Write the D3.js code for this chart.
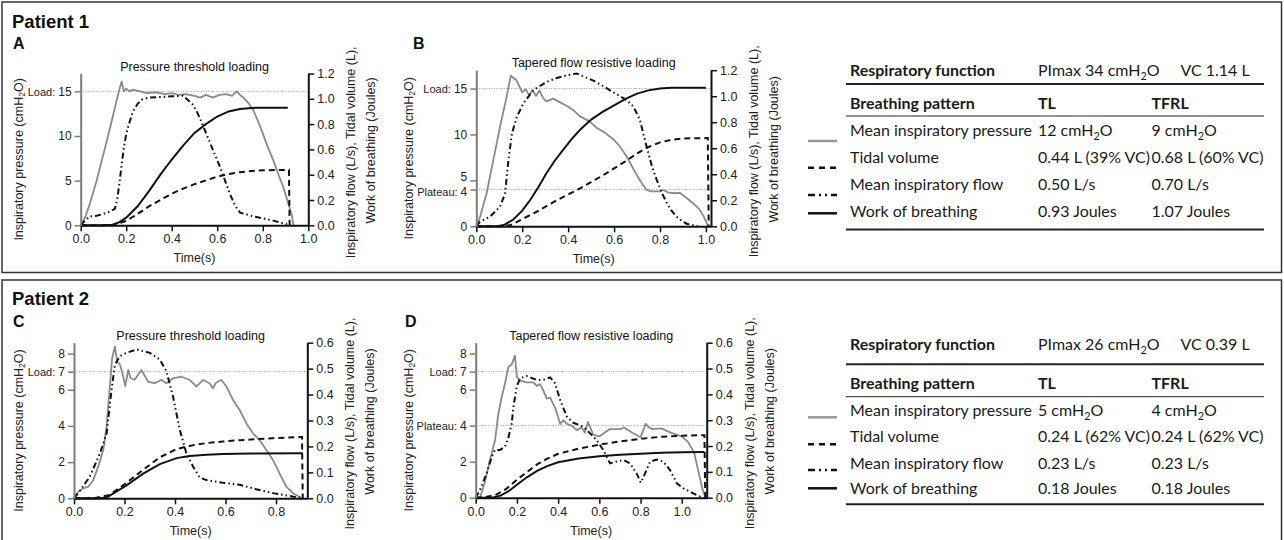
<!DOCTYPE html>
<html><head><meta charset="utf-8">
<script src="https://cdn.jsdelivr.net/npm/d3@7"></script>
<style>
body{margin:0;background:#fff;}
svg{display:block;}
</style></head><body>
<svg id="chart" width="1284" height="540"></svg>
<script>
// ---------------- DATA ----------------
// Panel A – Patient 1, pressure threshold loading  ([time s, value])
const pressureA = [[0,0],[0.02,0.9],[0.04,2.4],[0.07,5.0],[0.1,8.0],[0.13,11.0],[0.158,14.0],[0.172,15.4],[0.18,16.1],[0.19,15.0],[0.2,15.3],[0.215,15.0],[0.23,15.2],[0.26,15.0],[0.29,14.8],[0.33,14.9],[0.37,14.7],[0.4,14.8],[0.43,14.6],[0.46,14.7],[0.5,14.5],[0.525,14.3],[0.55,14.6],[0.58,14.3],[0.61,14.6],[0.64,14.7],[0.665,14.5],[0.685,15.0],[0.7,14.6],[0.715,14.3],[0.74,13.6],[0.76,12.8],[0.78,11.6],[0.8,10.3],[0.82,8.9],[0.846,7.3],[0.87,5.6],[0.89,4.3],[0.91,2.6],[0.927,1.2],[0.935,0]];
const flowA = [[0,0],[0.02,0.04],[0.04,0.07],[0.07,0.075],[0.1,0.09],[0.13,0.11],[0.15,0.13],[0.16,0.2],[0.17,0.33],[0.18,0.48],[0.19,0.62],[0.2,0.72],[0.21,0.79],[0.23,0.9],[0.25,0.96],[0.27,0.995],[0.3,1.01],[0.35,1.015],[0.4,1.02],[0.45,1.025],[0.465,1.0],[0.49,0.96],[0.51,0.9],[0.53,0.82],[0.555,0.71],[0.58,0.6],[0.61,0.47],[0.635,0.35],[0.655,0.25],[0.68,0.15],[0.7,0.1],[0.73,0.085],[0.76,0.07],[0.8,0.055],[0.85,0.035],[0.89,0.015],[0.92,0]];
const volumeA = [[0,0],[0.14,0],[0.2,0.035],[0.25,0.09],[0.3,0.15],[0.35,0.2],[0.4,0.25],[0.45,0.29],[0.5,0.325],[0.55,0.355],[0.6,0.385],[0.65,0.405],[0.7,0.42],[0.75,0.43],[0.8,0.435],[0.85,0.437],[0.915,0.437],[0.918,0]];
const workA = [[0,0],[0.1,0],[0.14,0.005],[0.17,0.025],[0.2,0.06],[0.25,0.15],[0.3,0.27],[0.35,0.4],[0.4,0.52],[0.45,0.63],[0.5,0.73],[0.55,0.8],[0.6,0.86],[0.65,0.9],[0.7,0.92],[0.75,0.928],[0.8,0.93],[0.91,0.93]];

// Panel B – Patient 1, tapered flow resistive loading
const pressureB = [[0,0],[0.016,1.0],[0.045,3.6],[0.074,7.2],[0.103,10.8],[0.132,14.1],[0.15,16.4],[0.175,15.9],[0.2,14.6],[0.215,14.9],[0.23,14.3],[0.245,14.8],[0.26,14.2],[0.275,14.8],[0.29,14.0],[0.305,13.6],[0.335,13.9],[0.365,13.5],[0.395,13.1],[0.425,12.6],[0.45,12.0],[0.495,11.4],[0.525,10.7],[0.56,10.2],[0.6,9.4],[0.625,8.7],[0.655,7.6],[0.685,6.2],[0.715,4.9],[0.74,4.0],[0.76,3.8],[0.8,3.8],[0.815,3.95],[0.835,3.7],[0.86,3.6],[0.885,3.65],[0.905,3.3],[0.94,2.6],[0.97,1.9],[0.99,1.1],[1.01,0]];
const flowB = [[0,0],[0.016,0.035],[0.06,0.075],[0.103,0.15],[0.125,0.25],[0.14,0.51],[0.155,0.71],[0.176,0.84],[0.205,0.945],[0.248,1.047],[0.306,1.11],[0.35,1.14],[0.393,1.16],[0.437,1.175],[0.47,1.15],[0.51,1.12],[0.55,1.08],[0.597,1.03],[0.655,0.97],[0.684,0.92],[0.712,0.82],[0.742,0.61],[0.765,0.46],[0.785,0.36],[0.81,0.25],[0.829,0.18],[0.85,0.12],[0.872,0.074],[0.9,0.035],[0.916,0.02],[0.95,0.005],[0.97,0]];
const volumeB = [[0,0],[0.12,0],[0.15,0.01],[0.2,0.055],[0.25,0.1],[0.3,0.15],[0.35,0.2],[0.4,0.245],[0.45,0.29],[0.5,0.34],[0.55,0.39],[0.6,0.445],[0.65,0.5],[0.7,0.56],[0.75,0.61],[0.8,0.645],[0.85,0.665],[0.9,0.675],[1.0,0.678],[1.008,0.678],[1.012,0]];
const workB = [[0,0],[0.09,0],[0.12,0.01],[0.16,0.05],[0.2,0.12],[0.234,0.2],[0.27,0.3],[0.306,0.41],[0.34,0.5],[0.379,0.59],[0.415,0.67],[0.451,0.74],[0.5,0.82],[0.55,0.88],[0.6,0.93],[0.65,0.98],[0.7,1.02],[0.75,1.045],[0.8,1.06],[0.85,1.065],[1.0,1.065]];

// Panel C – Patient 2, pressure threshold loading
const pressureC = [[0,0],[0.017,0.36],[0.037,0.55],[0.057,0.64],[0.076,1.0],[0.096,1.75],[0.116,2.67],[0.129,3.96],[0.142,6.17],[0.151,7.73],[0.162,8.38],[0.171,7.55],[0.182,7.4],[0.192,6.9],[0.203,6.2],[0.215,7.09],[0.224,6.65],[0.24,6.55],[0.267,7.09],[0.294,6.44],[0.32,6.36],[0.346,6.55],[0.366,6.36],[0.392,6.63],[0.426,6.72],[0.458,6.54],[0.485,6.17],[0.511,6.54],[0.537,6.36],[0.55,6.08],[0.563,6.4],[0.584,6.54],[0.604,6.17],[0.63,5.43],[0.656,4.88],[0.683,4.14],[0.709,3.59],[0.735,3.22],[0.762,2.67],[0.788,2.12],[0.814,1.38],[0.841,0.64],[0.867,0.28],[0.9,0.03]];
const flowC = [[0,0],[0.024,0.03],[0.063,0.084],[0.103,0.174],[0.129,0.25],[0.149,0.42],[0.162,0.516],[0.182,0.548],[0.208,0.561],[0.248,0.574],[0.3,0.561],[0.34,0.535],[0.366,0.49],[0.392,0.393],[0.419,0.264],[0.445,0.174],[0.472,0.122],[0.498,0.08],[0.525,0.07],[0.59,0.06],[0.656,0.052],[0.722,0.035],[0.788,0.02],[0.853,0.009],[0.9,0]];
const volumeC = [[0,0],[0.076,0],[0.142,0.013],[0.208,0.06],[0.274,0.11],[0.34,0.158],[0.406,0.19],[0.472,0.205],[0.525,0.213],[0.59,0.219],[0.656,0.224],[0.722,0.228],[0.788,0.232],[0.895,0.236],[0.903,0.236],[0.906,0]];
const workC = [[0,0],[0.1,0],[0.129,0.003],[0.208,0.05],[0.274,0.095],[0.34,0.132],[0.406,0.155],[0.458,0.163],[0.525,0.168],[0.59,0.171],[0.7,0.173],[0.907,0.174]];

// Panel D – Patient 2, tapered flow resistive loading
const pressureD = [[0,0],[0.021,0],[0.045,0.88],[0.069,2.08],[0.094,3.19],[0.11,4.66],[0.126,5.58],[0.142,6.32],[0.158,7.24],[0.175,7.4],[0.19,7.88],[0.2,6.7],[0.215,6.5],[0.247,6.4],[0.28,6.4],[0.296,6.2],[0.312,6.3],[0.328,5.95],[0.345,5.5],[0.361,5.55],[0.385,5.0],[0.41,4.1],[0.426,4.3],[0.442,4.1],[0.466,4.0],[0.49,3.75],[0.514,3.9],[0.53,3.6],[0.545,4.2],[0.57,3.5],[0.6,3.4],[0.625,3.6],[0.65,3.8],[0.7,3.8],[0.72,3.9],[0.76,3.6],[0.8,3.35],[0.825,4.1],[0.84,3.9],[0.86,3.8],[0.9,3.85],[0.95,3.6],[1.0,3.4],[1.03,3.1],[1.06,2.5],[1.08,1.5],[1.1,0.5],[1.115,0]];
const flowD = [[0,0],[0.021,0.03],[0.053,0.094],[0.078,0.159],[0.094,0.185],[0.118,0.185],[0.142,0.197],[0.158,0.23],[0.175,0.288],[0.183,0.352],[0.199,0.43],[0.215,0.462],[0.247,0.471],[0.296,0.456],[0.328,0.456],[0.361,0.466],[0.385,0.443],[0.41,0.378],[0.442,0.314],[0.474,0.29],[0.522,0.275],[0.555,0.249],[0.587,0.223],[0.619,0.185],[0.652,0.133],[0.684,0.14],[0.717,0.146],[0.749,0.133],[0.781,0.094],[0.801,0.058],[0.822,0.094],[0.846,0.139],[0.879,0.148],[0.911,0.139],[0.943,0.107],[0.976,0.056],[1.008,0.036],[1.04,0.023],[1.073,0.01],[1.1,0]];
const volumeD = [[0,0],[0.05,0.003],[0.1,0.012],[0.15,0.035],[0.2,0.07],[0.25,0.1],[0.3,0.13],[0.35,0.152],[0.4,0.17],[0.45,0.18],[0.5,0.19],[0.6,0.205],[0.7,0.218],[0.8,0.228],[0.9,0.236],[1.0,0.24],[1.105,0.242],[1.11,0.242],[1.114,0]];
const workD = [[0,0],[0.08,0],[0.12,0.008],[0.16,0.025],[0.2,0.05],[0.25,0.08],[0.3,0.105],[0.35,0.123],[0.4,0.137],[0.5,0.152],[0.6,0.16],[0.7,0.166],[0.8,0.17],[0.9,0.174],[1.0,0.176],[1.11,0.177]];

// Tick values and labels
const xTicks10 = [0, 0.2, 0.4, 0.6, 0.8, 1.0];
const xTicks08 = [0, 0.2, 0.4, 0.6, 0.8];
const rightTicks12 = [0, 0.2, 0.4, 0.6, 0.8, 1.0, 1.2];
const rightTicks06 = [0, 0.1, 0.2, 0.3, 0.4, 0.5, 0.6];
const leftTicksA = [0, 5, 10, 15];
const leftLabelsA = ['0', '5', '10', 'Load: 15'];
const leftTicksB = [0, 4, 5, 10, 15];
const leftLabelsB = ['0', 'Plateau: 4', '5', '10', 'Load: 15'];
const leftTicksC = [0, 2, 4, 6, 7, 8];
const leftLabelsC = ['0', '2', '4', '6', 'Load: 7', '8'];
const leftTicksD = [0, 2, 4, 6, 7, 8];
const leftLabelsD = ['0', '2', 'Plateau: 4', '6', 'Load: 7', '8'];
const refLinesA = [15], refLinesB = [15, 4], refLinesC = [7], refLinesD = [7, 4];

// Table contents
const tableRowLabels = ['Mean inspiratory pressure', 'Tidal volume', 'Mean inspiratory flow', 'Work of breathing'];
const tl1 = ['12 cmH₂O', '0.44 L (39% VC)', '0.50 L/s', '0.93 Joules'];
const tfrl1 = ['9 cmH₂O', '0.68 L (60% VC)', '0.70 L/s', '1.07 Joules'];
const func1 = ['PImax 34 cmH₂O', 'VC 1.14 L'];
const tl2 = ['5 cmH₂O', '0.24 L (62% VC)', '0.23 L/s', '0.18 Joules'];
const tfrl2 = ['4 cmH₂O', '0.24 L (62% VC)', '0.23 L/s', '0.18 Joules'];
const func2 = ['PImax 26 cmH₂O', 'VC 0.39 L'];

// ---------------- DRAWING ----------------
const svg = d3.select('#chart');
const ARIAL = '"Liberation Sans", Arial, Helvetica, sans-serif';
const TFONT = 'Lato, "Open Sans", sans-serif';

// rich text with subscript 2
function rich(sel, str, size) {
  const parts = str.split('₂');
  parts.forEach((p, i) => {
    if (i > 0) {
      sel.append('tspan').attr('dy', size * 0.25).attr('font-size', size * 0.68).text('2');
      sel.append('tspan').attr('dy', -size * 0.25).text(p);
    } else {
      sel.append('tspan').text(p);
    }
  });
  return sel;
}

// frames
svg.append('rect').attr('x', 2).attr('y', 2).attr('width', 1279.5).attr('height', 270.5)
  .attr('fill', 'none').attr('stroke', '#333').attr('stroke-width', 1.5);
svg.append('rect').attr('x', 2).attr('y', 280).attr('width', 1279.5).attr('height', 270)
  .attr('fill', 'none').attr('stroke', '#333').attr('stroke-width', 1.5);

function heading(x, y, txt, size) {
  svg.append('text').attr('x', x).attr('y', y).attr('font-family', ARIAL)
    .attr('font-weight', 'bold').attr('font-size', size).attr('fill', '#111').text(txt);
}
heading(12, 28, 'Patient 1', 18.5);
heading(12, 305, 'Patient 2', 18.5);

function drawPanel(p) {
  const g = svg.append('g');
  const x = d3.scaleLinear().domain([0, p.xMax]).range([p.x0, p.x1]);
  const yL = d3.scaleLinear().domain([0, p.leftMax]).range([p.yb, p.yt]);
  const yR = d3.scaleLinear().domain([0, p.rightMax]).range([p.yb, p.yt]);

  heading(p.letterX, p.letterY, p.letter, 16);
  g.append('text').attr('x', (p.x0 + p.x1) / 2).attr('y', p.yt - 3)
    .attr('text-anchor', 'middle').attr('font-family', ARIAL).attr('font-size', 12.5)
    .attr('fill', '#111').text(p.title);

  // reference dotted lines
  g.selectAll('line.ref').data(p.refs).enter().append('line')
    .attr('x1', p.x0).attr('x2', p.x1).attr('y1', d => yL(d)).attr('y2', d => yL(d))
    .attr('stroke', '#9a9a9a').attr('stroke-width', 1).attr('stroke-dasharray', '1,1.5');

  const lineL = d3.line().x(d => x(d[0])).y(d => yL(d[1]));
  const lineR = d3.line().x(d => x(d[0])).y(d => yR(d[1]));
  g.append('path').datum(p.pressure).attr('d', lineL).attr('fill', 'none')
    .attr('stroke', '#8a8a8a').attr('stroke-width', 1.8).attr('stroke-linejoin', 'round');
  g.append('path').datum(p.work).attr('d', lineR).attr('fill', 'none')
    .attr('stroke', '#111').attr('stroke-width', 2);
  g.append('path').datum(p.volume).attr('d', lineR).attr('fill', 'none')
    .attr('stroke', '#111').attr('stroke-width', 2).attr('stroke-dasharray', '6,4');
  g.append('path').datum(p.flow).attr('d', lineR).attr('fill', 'none')
    .attr('stroke', '#111').attr('stroke-width', 2).attr('stroke-dasharray', '6,3,1.5,3,1.5,3');

  // axes
  const leftAxis = d3.axisLeft(yL).tickValues(p.leftTicks).tickSize(6).tickSizeOuter(0)
    .tickFormat((d, i) => p.leftLabels[i]);
  const rightAxis = d3.axisRight(yR).tickValues(p.rightTicks).tickSize(6).tickSizeOuter(0)
    .tickFormat(d3.format('.1f'));
  const bottomAxis = d3.axisBottom(x).tickValues(p.xTicks).tickSize(6).tickSizeOuter(0)
    .tickFormat(d3.format('.1f'));

  const style = (ax, col, fs) => {
    ax.attr('font-family', ARIAL).attr('font-size', fs);
    ax.select('.domain').attr('stroke', col).attr('stroke-width', 2);
    ax.selectAll('.tick line').attr('stroke', col).attr('stroke-width', 1.5);
    ax.selectAll('.tick text').attr('fill', '#222');
    return ax;
  };
  style(g.append('g').attr('transform', `translate(0,${p.yb})`).call(bottomAxis), '#111', 12.5);
  style(g.append('g').attr('transform', `translate(${p.x1},0)`).call(rightAxis), '#111', 12.5);
  const la = style(g.append('g').attr('transform', `translate(${p.x0},0)`).call(leftAxis), '#7c7c7c', 12);
  la.selectAll('.tick text').each(function(d) {
    const t = d3.select(this);
    const s = t.text();
    if (s.indexOf(': ') >= 0) {
      const [pre, num] = s.split(': ');
      t.text(null);
      t.append('tspan').attr('font-size', 11).text(pre + ': ');
      t.append('tspan').text(num);
    }
    if (p.nudge && p.nudge[d] !== undefined) t.attr('y', p.nudge[d]);
  });

  // axis titles
  g.append('text').attr('x', (p.x0 + p.x1) / 2).attr('y', p.yb + 37)
    .attr('text-anchor', 'middle').attr('font-family', ARIAL).attr('font-size', 12.5)
    .attr('fill', '#222').text('Time(s)');
  const cy = (p.yt + p.yb) / 2;
  rich(g.append('text').attr('transform', `translate(${p.leftLabelX},${cy + 10}) rotate(-90)`)
    .attr('text-anchor', 'middle').attr('dominant-baseline', 'central')
    .attr('font-family', ARIAL).attr('font-size', 12.5).attr('fill', '#222'),
    'Inspiratory pressure (cmH₂O)', 12.5);
  g.append('text').attr('transform', `translate(${p.x1 + 43},${cy + 3}) rotate(-90)`)
    .attr('text-anchor', 'middle').attr('dominant-baseline', 'central')
    .attr('font-family', ARIAL).attr('font-size', 12.5).attr('fill', '#222')
    .text('Inspiratory flow (L/s), Tidal volume (L),');
  g.append('text').attr('transform', `translate(${p.x1 + 63},${cy + 1}) rotate(-90)`)
    .attr('text-anchor', 'middle').attr('dominant-baseline', 'central')
    .attr('font-family', ARIAL).attr('font-size', 12.5).attr('fill', '#222')
    .text('Work of breathing (Joules)');
}

drawPanel({letter: 'A', letterX: 13, letterY: 48.5, title: 'Pressure threshold loading',
  x0: 80.7, x1: 308.3, xMax: 1.0, yb: 225.3, yt: 73.5, leftMax: 17, rightMax: 1.2,
  leftTicks: leftTicksA, leftLabels: leftLabelsA, rightTicks: rightTicks12, xTicks: xTicks10,
  refs: refLinesA, leftLabelX: 19,
  pressure: pressureA, flow: flowA, volume: volumeA, work: workA});
drawPanel({letter: 'B', letterX: 413, letterY: 48.5, title: 'Tapered flow resistive loading',
  x0: 476.3, x1: 711, xMax: 1.022, yb: 226.3, yt: 70.2, leftMax: 17, rightMax: 1.2,
  leftTicks: leftTicksB, leftLabels: leftLabelsB, rightTicks: rightTicks12, xTicks: xTicks10,
  refs: refLinesB, leftLabelX: 409, nudge: {5: -3.5, 4: 2},
  pressure: pressureB, flow: flowB, volume: volumeB, work: workB});
drawPanel({letter: 'C', letterX: 13, letterY: 327, title: 'Pressure threshold loading',
  x0: 74, x1: 307.3, xMax: 0.924, yb: 498.3, yt: 342.7, leftMax: 8.6, rightMax: 0.6,
  leftTicks: leftTicksC, leftLabels: leftLabelsC, rightTicks: rightTicks06, xTicks: xTicks08,
  refs: refLinesC, leftLabelX: 19,
  pressure: pressureC, flow: flowC, volume: volumeC, work: workC});
drawPanel({letter: 'D', letterX: 405, letterY: 327, title: 'Tapered flow resistive loading',
  x0: 475.7, x1: 706.7, xMax: 1.121, yb: 497.7, yt: 342.7, leftMax: 8.6, rightMax: 0.6,
  leftTicks: leftTicksD, leftLabels: leftLabelsD, rightTicks: rightTicks06, xTicks: xTicks10,
  refs: refLinesD, leftLabelX: 409,
  pressure: pressureD, flow: flowD, volume: volumeD, work: workD});

// ---- tables ----
const probe = svg.append('text').attr('font-family', TFONT).attr('font-size', 20).text('Mean inspiratory pressure');
const tSize = 20 * 182 / probe.node().getComputedTextLength();
probe.remove();

function drawTable(t) {
  const g = svg.append('g').attr('font-family', TFONT).attr('font-size', tSize).attr('fill', '#1a1a1a');
  const cols = [850, 1038, 1151.5];
  const txt = (x, y, s, bold) => rich(g.append('text').attr('x', x).attr('y', y)
    .attr('font-weight', bold ? 'bold' : 'normal'), s, tSize);
  txt(cols[0], t.yHead, 'Respiratory function', true);
  txt(cols[1], t.yHead, t.func[0], false);
  txt(1180.5, t.yHead, t.func[1], false);
  g.append('line').attr('x1', 846).attr('x2', 1264).attr('y1', t.yRule1).attr('y2', t.yRule1)
    .attr('stroke', '#222').attr('stroke-width', 2);
  txt(cols[0], t.yHead2, 'Breathing pattern', true);
  txt(cols[1], t.yHead2, 'TL', true);
  txt(cols[2], t.yHead2, 'TFRL', true);
  g.append('line').attr('x1', 846).attr('x2', 1264).attr('y1', t.yRule2).attr('y2', t.yRule2)
    .attr('stroke', '#222').attr('stroke-width', 1);
  tableRowLabels.forEach((lab, i) => {
    txt(cols[0], t.rows[i], lab, false);
    txt(cols[1], t.rows[i], t.tl[i], false);
    txt(cols[2], t.rows[i], t.tfrl[i], false);
  });
  g.append('line').attr('x1', 846).attr('x2', 1264).attr('y1', t.yRule3).attr('y2', t.yRule3)
    .attr('stroke', '#222').attr('stroke-width', 2);
  // legend keys
  const keys = [
    {c: '#999', w: 2.5, dash: null},
    {c: '#111', w: 2.5, dash: '6,5'},
    {c: '#111', w: 2.5, dash: '7,4,2,4,2,4'},
    {c: '#111', w: 2.5, dash: null}
  ];
  keys.forEach((k, i) => {
    const l = g.append('line').attr('x1', 808).attr('x2', 837).attr('y1', t.keys[i]).attr('y2', t.keys[i])
      .attr('stroke', k.c).attr('stroke-width', k.w);
    if (k.dash) l.attr('stroke-dasharray', k.dash);
  });
}
drawTable({func: func1, tl: tl1, tfrl: tfrl1, yHead: 76, yRule1: 84, yHead2: 109, yRule2: 116,
  rows: [136, 162.5, 189.5, 216.5], yRule3: 229.5, keys: [141, 167.7, 195, 213.3]});
drawTable({func: func2, tl: tl2, tfrl: tfrl2, yHead: 350, yRule1: 364.3, yHead2: 389, yRule2: 396.7,
  rows: [416, 442, 469, 494], yRule3: 504.3, keys: [417.3, 444.3, 470, 488.3]});
</script>
</body></html>
